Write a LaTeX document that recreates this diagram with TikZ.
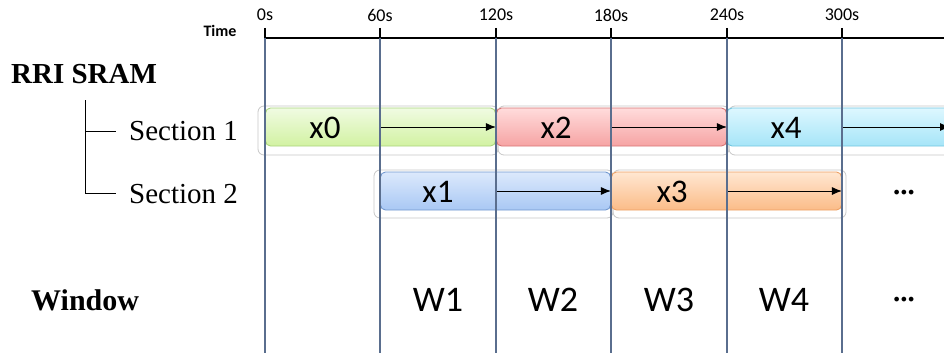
\documentclass[tikz,border=0pt]{standalone}
\usepackage{fontspec}
\newfontfamily\calfont{Carlito}
\newfontfamily\tmsfont{Liberation Serif}
\usetikzlibrary{arrows.meta}
\definecolor{gridc}{HTML}{5A6E8E}
\definecolor{gT}{HTML}{F0FBE2}\definecolor{gB}{HTML}{D2F2A2}\definecolor{gD}{HTML}{A9D47C}
\definecolor{rT}{HTML}{FFDCDC}\definecolor{rB}{HTML}{F6A3A3}\definecolor{rD}{HTML}{D77575}
\definecolor{cT}{HTML}{DDF7FF}\definecolor{cB}{HTML}{A6E5F8}\definecolor{cD}{HTML}{72C6E0}
\definecolor{bT}{HTML}{DCE9FC}\definecolor{bB}{HTML}{A9C8F4}\definecolor{bD}{HTML}{7298CF}
\definecolor{oT}{HTML}{FFE7D2}\definecolor{oB}{HTML}{FBBC88}\definecolor{oD}{HTML}{EDA063}
\tikzset{
  box/.style={rounded corners=5pt, line width=0.9pt, minimum height=38pt, inner sep=0pt},
  halo/.style={draw=black!22, line width=0.8pt, rounded corners=6pt},
  tick/.style={font=\calfont\fontsize{18}{20}\selectfont, inner sep=0pt},
  xlab/.style={font=\calfont\fontsize{33}{35}\selectfont, inner sep=0pt},
  wlab/.style={font=\calfont\fontsize{36}{38}\selectfont, inner sep=0pt},
  slab/.style={font=\tmsfont\fontsize{29}{31}\selectfont, inner sep=0pt},
  blab/.style={font=\tmsfont\bfseries\fontsize{29}{31}\selectfont, inner sep=0pt},
  arr/.style={line width=1pt, -{Latex[length=10pt,width=8pt]}},
  vline/.style={draw=gridc, line width=1.1pt},
}
\begin{document}
\begin{tikzpicture}[x=1pt,y=-1pt]
\useasboundingbox (0,0) rectangle (944,353);
\clip (0,0) rectangle (944,353);
% halos
\draw[halo] (258,106) rectangle (498,155);
\draw[halo] (498,106) rectangle (729,155);
\draw[halo] (729,106) rectangle (960,155);
\draw[halo] (374,170) rectangle (613,218);
\draw[halo] (613,170) rectangle (846,218);
% boxes
\node[box, draw=gD, top color=gT, bottom color=gB, minimum width=230pt] (b0) at (380.5,127) {};
\node[box, draw=rD, top color=rT, bottom color=rB, minimum width=230pt] (b2) at (611.5,127) {};
\node[box, draw=cD, top color=cT, bottom color=cB, minimum width=240pt] (b4) at (847,127) {};
\node[box, draw=bD, top color=bT, bottom color=bB, minimum width=230pt] (b1) at (495.5,191) {};
\node[box, draw=oD, top color=oT, bottom color=oB, minimum width=230pt] (b3) at (726.5,191) {};
% box labels
\node[xlab] (t0) at (325,128) {x0};
\node[xlab] (t2) at (556,128) {x2};
\node[xlab] (t4) at (786,128) {x4};
\node[xlab] (t1) at (438,192) {x1};
\node[xlab] (t3) at (672,192) {x3};
% arrows
\coordinate (a0) at (380,127);
\coordinate (a2) at (611,127);
\coordinate (a4) at (842,127);
\coordinate (e4) at (950,127);
\coordinate (a1) at (496,191);
\coordinate (a3) at (727,191);
\draw[arr] (a0) -- (b0.east);
\draw[arr] (a2) -- (b2.east);
\draw[arr] (a4) -- (e4);
\draw[arr] (a1) -- (b1.east);
\draw[arr] (a3) -- (b3.east);
% time axis
\coordinate (ax0) at (265,38);
\coordinate (ax1) at (944,38);
\draw[line width=1.1pt] (ax0) -- (ax1);
\foreach \x/\l in {265/0s,380/60s,496/120s,611/180s,727/240s,842/300s}{
  \coordinate (top\l) at (\x,28);
  \coordinate (mid\l) at (\x,38);
  \coordinate (bot\l) at (\x,353);
  \draw[line width=1.1pt] (top\l) -- (mid\l);
  \draw[vline] (mid\l) -- (bot\l);
  \node[tick] (lab\l) at (\x,15) {\l};
}
\node[tick, font=\calfont\bfseries\fontsize{16}{18}\selectfont] (time) at (220,31) {Time};
% left labels
\node[blab, anchor=west] (rri) at (11,74) {RRI SRAM};
\node[slab, anchor=west] (s1) at (129,131) {Section 1};
\node[slab, anchor=west] (s2) at (129,194) {Section 2};
\coordinate (tr0) at (85,100);
\coordinate (tr1) at (85,131);
\coordinate (tr2) at (85,193);
\coordinate (h1) at (116,131);
\coordinate (h2) at (116,193);
\draw[line width=1pt] (tr0) -- (tr2) -- (h2);
\draw[line width=1pt] (tr1) -- (h1);
\node[blab, anchor=west, font=\tmsfont\bfseries\fontsize{30}{32}\selectfont] (win) at (31,300) {Window};
% windows
\node[wlab] (w1) at (438,300) {W1};
\node[wlab] (w2) at (553,300) {W2};
\node[wlab] (w3) at (669,300) {W3};
\node[wlab] (w4) at (784,300) {W4};
\node[blab] (d1) at (904,300) {...};
\node[blab] (d2) at (904,193) {...};
\end{tikzpicture}
\end{document}
